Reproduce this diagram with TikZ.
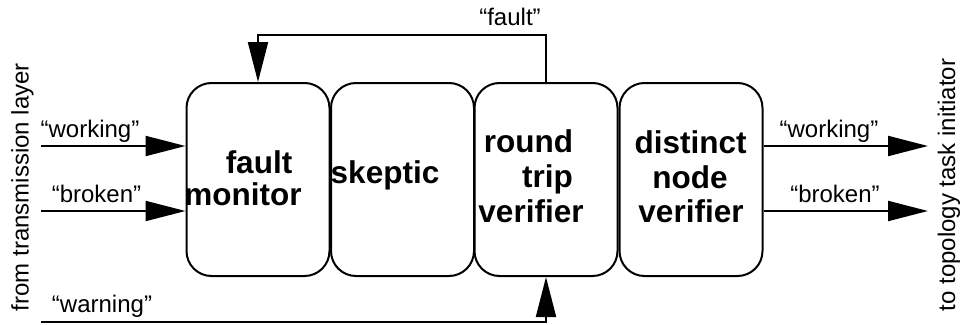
\documentclass[tikz,border=0pt]{standalone}
\usepackage{fontspec}
\setmainfont{Liberation Sans}
\usetikzlibrary{arrows.meta}
\tikzset{
  blk/.style={draw, line width=2pt, rounded corners=25pt, minimum width=143pt, minimum height=193pt, inner sep=0pt},
  bt/.style={font=\fontsize{31.5}{35}\selectfont\bfseries, anchor=base, inner sep=0pt},
  lbl/.style={font=\fontsize{24}{28}\selectfont, anchor=base, inner sep=0pt},
  arr/.style={line width=2pt, -{Triangle[length=40pt,width=20pt]}},
  ln/.style={line width=2pt}
}
\begin{document}
\begin{tikzpicture}[x=1pt,y=-1pt]
\useasboundingbox (0,0) rectangle (961,324);
% boxes
\node[blk] (fm) at (258,179.5) {};
\node[blk] (sk) at (402.5,179.5) {};
\node[blk] (rt) at (546,179.5) {};
\node[blk] (dn) at (691,179.5) {};
% box texts
\node[bt] (fm1) at (259,173) {fault};
\node[bt] (fm2) at (243,205) {monitor};
\node[bt] (sk1) at (385,183) {skeptic};
\node[bt] (rt1) at (528.5,152) {round};
\node[bt] (rt2) at (547.5,187) {trip};
\node[bt] (rt3) at (531,222) {verifier};
\node[bt] (dn1) at (690.5,153) {distinct};
\node[bt] (dn2) at (690,188) {node};
\node[bt] (dn3) at (691,222) {verifier};
% endpoints
\coordinate (wl) at (41,146);
\coordinate (bl) at (41,211);
\coordinate (win) at (41,322);
\coordinate (wr) at (928,146);
\coordinate (br) at (928,211);
\coordinate (ftop) at (0,35);
% connectors
\draw[arr] (wl) -- (fm.west |- wl);
\draw[arr] (bl) -- (fm.west |- bl);
\draw[arr] (win) -| (rt.south);
\draw[arr] (rt.north) -- (rt.north |- ftop) -| (fm.north);
\draw[arr] (dn.east |- wr) -- (wr);
\draw[arr] (dn.east |- br) -- (br);
% labels
\node[lbl] (lw) at (90,137) {“working”};
\node[lbl] (lb) at (96.5,202) {“broken”};
\node[lbl] (lwa) at (102,312) {“warning”};
\node[lbl] (lf) at (510,25) {“fault”};
\node[lbl] (rw) at (829,137) {“working”};
\node[lbl] (rb) at (835,202) {“broken”};
\node[lbl, rotate=90] (from) at (28.5,187) {from transmission layer};
\node[lbl, rotate=90] (to) at (955,185) {to topology task initiator};
\end{tikzpicture}
\end{document}
